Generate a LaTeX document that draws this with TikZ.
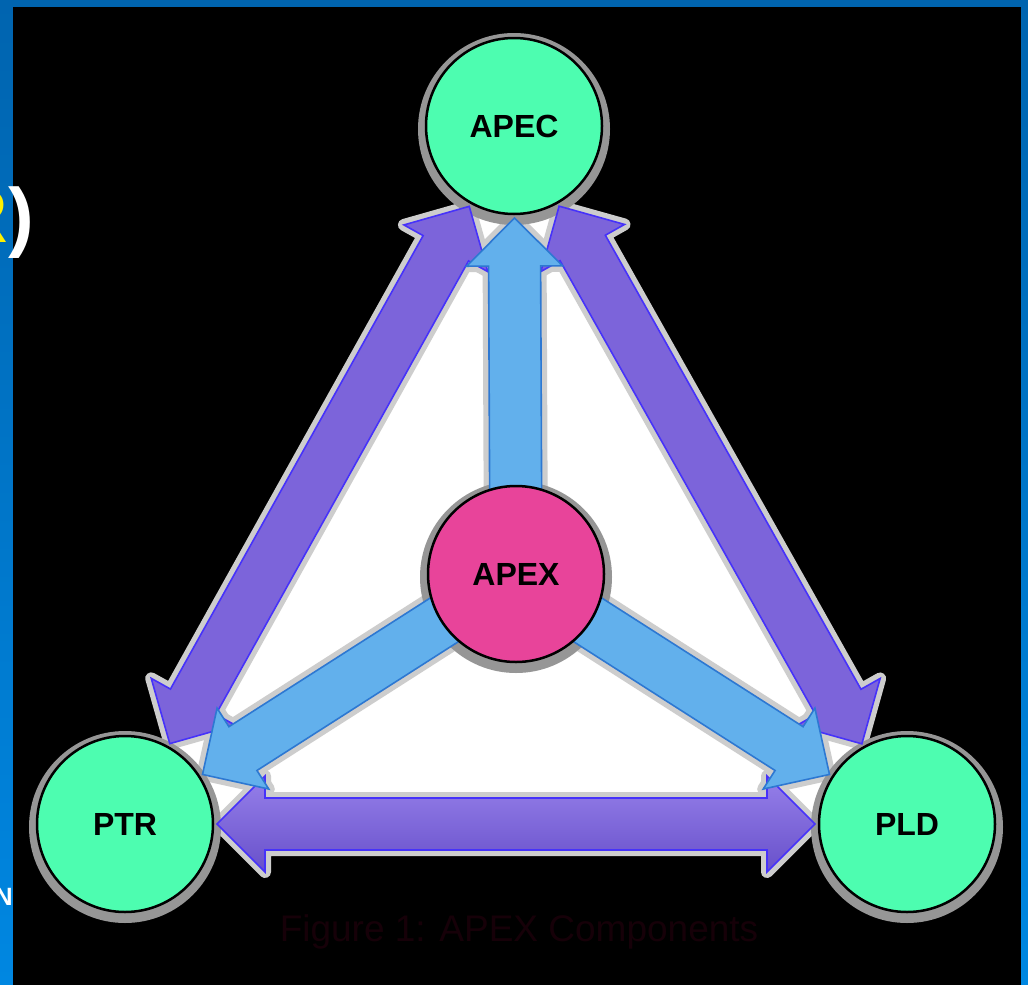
\documentclass[tikz,border=0pt]{standalone}
\usepackage{fontspec}
\setmainfont{Liberation Sans}
\usetikzlibrary{calc}
\definecolor{frameA}{RGB}{0,100,175}
\definecolor{frameB}{RGB}{0,135,225}
\definecolor{nodegreen}{RGB}{77,253,176}
\definecolor{nodepink}{RGB}{232,68,154}
\definecolor{bluefill}{RGB}{98,176,236}
\definecolor{bluefillB}{RGB}{82,158,228}
\definecolor{blueline}{RGB}{45,120,210}
\definecolor{purpleA}{RGB}{150,128,234}
\definecolor{purpleB}{RGB}{104,80,202}
\definecolor{purpleM}{RGB}{124,100,218}
\definecolor{purpleline}{RGB}{70,50,250}
\definecolor{glowcol}{RGB}{205,205,205}
\definecolor{halocol}{RGB}{150,150,150}
\definecolor{capcol}{RGB}{22,0,8}
\definecolor{titleyellow}{RGB}{255,240,0}
\pgfdeclarelayer{back}
\pgfdeclarelayer{mid}
\pgfsetlayers{back,mid,main}
\newcommand{\dblarrow}[3]{%
  \path ($(#1.center)!92pt!(#2.center)$) coordinate (ta) ($(#2.center)!92pt!(#1.center)$) coordinate (tb);
  \path ($(ta)!48pt!(tb)$) coordinate (ba) ($(tb)!48pt!(ta)$) coordinate (bb);
  \draw[#3] (ta) -- ($(ba)!48pt!90:(tb)$) -- ($(ba)!26pt!90:(tb)$) -- ($(bb)!26pt!-90:(ta)$) -- ($(bb)!48pt!-90:(ta)$) -- (tb)
    -- ($(bb)!48pt!90:(ta)$) -- ($(bb)!26pt!90:(ta)$) -- ($(ba)!26pt!-90:(tb)$) -- ($(ba)!48pt!-90:(tb)$) -- cycle;}
\newcommand{\sarrow}[3]{%
  \path ($(#2.center)!92pt!(#1.center)$) coordinate (ta) (#1.center) coordinate (sa);
  \path ($(ta)!48pt!(sa)$) coordinate (ba);
  \draw[#3] ($(sa)!26pt!90:(ta)$) -- ($(ba)!26pt!-90:(sa)$) -- ($(ba)!48pt!-90:(sa)$) -- (ta)
    -- ($(ba)!48pt!90:(sa)$) -- ($(ba)!26pt!90:(sa)$) -- ($(sa)!26pt!-90:(ta)$) -- cycle;}
\begin{document}
\begin{tikzpicture}[x=1pt,y=-1pt,
  circ/.style={circle,minimum size=176pt,inner sep=0pt,draw=black,line width=2.5pt,
    font=\bfseries\fontsize{32}{32}\selectfont,text=black},
  glow/.style={draw=glowcol,line width=12pt,line join=round,fill=glowcol},
  parrow/.style={draw=purpleline,line width=1.6pt,fill=purpleM},
  hparrow/.style={draw=purpleline,line width=1.6pt,top color=purpleA,bottom color=purpleB},
  barrow/.style={draw=blueline,line width=1.6pt,fill=bluefill}]
\useasboundingbox (0,0) rectangle (1028,985);
\node[circ,fill=nodegreen] (apec) at (514,126) {APEC};
\node[circ,fill=nodepink] (apex) at (516,574) {APEX};
\node[circ,fill=nodegreen] (ptr) at (125,824) {PTR};
\node[circ,fill=nodegreen] (pld) at (907,824) {PLD};
\node[font=\fontsize{37}{37}\selectfont,text=capcol] (cap) at (519,932) {Figure 1: APEX Components};
\node[anchor=base east,font=\bfseries\fontsize{77}{77}\selectfont,inner sep=0pt,text=white] (title) at (34,242) {\textcolor{titleyellow}{R})};
\node[anchor=base east,font=\bfseries\fontsize{25}{25}\selectfont,inner sep=0pt,text=white] (foot) at (13,905) {N};
\begin{pgfonlayer}{back}
  \fill[top color=frameA,bottom color=frameB] (0,0) rectangle (1028,985);
  \fill[black] (13,7) rectangle (1021,985);
  \fill[white] (apec.center) -- (ptr.center) -- (pld.center) -- cycle;
  \dblarrow{apec}{ptr}{glow}
  \dblarrow{apec}{pld}{glow}
  \dblarrow{ptr}{pld}{glow}
  \sarrow{apex}{apec}{glow}
  \sarrow{apex}{ptr}{glow}
  \sarrow{apex}{pld}{glow}
  \foreach \n in {apec,apex,ptr,pld} \fill[halocol] ($(\n.center)+(0,3)$) circle (96pt);
\end{pgfonlayer}
\begin{pgfonlayer}{mid}
  \dblarrow{apec}{ptr}{parrow}
  \dblarrow{apec}{pld}{parrow}
  \dblarrow{ptr}{pld}{hparrow}
  \sarrow{apex}{apec}{barrow}
  \sarrow{apex}{ptr}{barrow}
  \sarrow{apex}{pld}{barrow}
\end{pgfonlayer}
\end{tikzpicture}
\end{document}
